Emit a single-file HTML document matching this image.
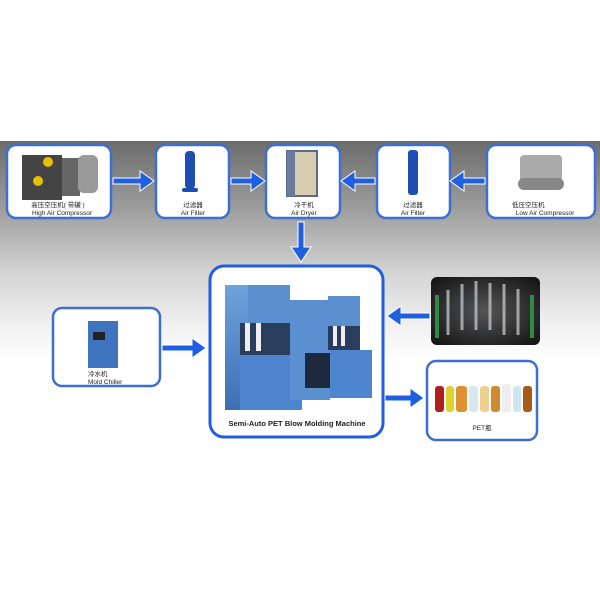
<!DOCTYPE html>
<html><head><meta charset="utf-8"><style>
html,body{margin:0;padding:0;background:#fff;}
svg{display:block;}
text{font-family:"Liberation Sans","Noto Sans CJK SC",sans-serif;fill:#222;}
</style></head><body>
<svg width="600" height="600" viewBox="0 0 600 600">
<defs>
<linearGradient id="bg" x1="0" y1="0" x2="0" y2="1">
<stop offset="0" stop-color="#6c6c6c"/>
<stop offset="0.3" stop-color="#9c9c9c"/>
<stop offset="0.6" stop-color="#d4d4d4"/>
<stop offset="0.85" stop-color="#f2f2f2"/>
<stop offset="1" stop-color="#ffffff"/>
</linearGradient>
<linearGradient id="blu" x1="0" y1="0" x2="0" y2="1">
<stop offset="0" stop-color="#6fa3dd"/><stop offset="1" stop-color="#3d6fb3"/>
</linearGradient>
<radialGradient id="dark" cx="0.5" cy="0.5" r="0.7">
<stop offset="0" stop-color="#555"/><stop offset="1" stop-color="#111"/>
</radialGradient>
</defs>
<rect x="0" y="141" width="600" height="220" fill="url(#bg)"/>
<g fill="#fff" stroke="#3b6fd0" stroke-width="2.5">
<rect x="7" y="145" width="104" height="73" rx="9"/>
<rect x="156" y="145" width="73" height="73" rx="9"/>
<rect x="266" y="145" width="74" height="73" rx="9"/>
<rect x="377" y="145" width="73" height="73" rx="9"/>
<rect x="487" y="145" width="108" height="73" rx="9"/>
<rect x="210" y="266" width="173" height="171" rx="14" stroke="#1f5fe0" stroke-width="3"/>
<rect x="53" y="308" width="107" height="78" rx="9"/>
<rect x="427" y="361" width="110" height="79" rx="9"/>
</g>
<g>
<rect x="22" y="155" width="40" height="45" fill="#444"/>
<circle cx="48" cy="162" r="5" fill="#e8c000"/><circle cx="38" cy="181" r="5" fill="#e8c000"/>
<rect x="62" y="158" width="18" height="38" fill="#666"/>
<rect x="78" y="155" width="20" height="38" rx="6" fill="#9a9a9a"/>
<rect x="185" y="151" width="10" height="38" rx="4" fill="#1e4fb0"/>
<rect x="182" y="188" width="16" height="4" rx="2" fill="#1e4fb0"/>
<rect x="287" y="151" width="30" height="45" fill="#d8ccb0" stroke="#5a6a8a" stroke-width="2"/>
<rect x="287" y="151" width="8" height="45" fill="#6b7b9a"/>
<rect x="408" y="150" width="10" height="45" rx="3" fill="#1e4fb0"/>
<rect x="520" y="155" width="42" height="30" rx="4" fill="#aaa"/>
<rect x="518" y="178" width="46" height="12" rx="6" fill="#888"/>
<rect x="88" y="321" width="30" height="47" fill="#3e73be"/>
<rect x="93" y="332" width="12" height="8" fill="#222"/>
<rect x="225" y="285" width="55" height="125" fill="url(#blu)"/>
<rect x="248" y="285" width="42" height="38" fill="#5a8fd0"/>
<rect x="240" y="323" width="50" height="32" fill="#2a3d5c"/>
<rect x="245" y="323" width="5" height="28" fill="#eee"/><rect x="256" y="323" width="5" height="28" fill="#eee"/>
<rect x="240" y="355" width="62" height="55" fill="#4d86cf"/>
<rect x="290" y="300" width="40" height="100" fill="#5a8fd0"/>
<rect x="305" y="353" width="28" height="35" fill="#1d2a3e"/>
<rect x="328" y="296" width="32" height="30" fill="#5a8fd0"/>
<rect x="328" y="326" width="32" height="24" fill="#2a3d5c"/>
<rect x="333" y="326" width="4" height="20" fill="#eee"/><rect x="341" y="326" width="4" height="20" fill="#eee"/>
<rect x="330" y="350" width="42" height="48" fill="#4d86cf"/>
<rect x="431" y="277" width="109" height="68" rx="6" fill="url(#dark)"/>
<g stroke="#b8c0c8" stroke-width="3" opacity="0.8">
<line x1="448" y1="290" x2="448" y2="335"/><line x1="462" y1="284" x2="462" y2="330"/><line x1="476" y1="281" x2="476" y2="330"/><line x1="490" y1="283" x2="490" y2="330"/><line x1="504" y1="284" x2="504" y2="335"/><line x1="518" y1="289" x2="518" y2="335"/></g>
<g stroke="#2f8a4a" stroke-width="4"><line x1="437" y1="295" x2="437" y2="338"/><line x1="532" y1="295" x2="532" y2="338"/></g>
<g>
<rect x="435" y="386" width="9" height="26" rx="3" fill="#b02020"/>
<rect x="446" y="386" width="8" height="26" rx="3" fill="#e0d030"/>
<rect x="456" y="386" width="11" height="26" rx="3" fill="#e09030"/>
<rect x="469" y="386" width="9" height="26" rx="3" fill="#d8e8f0"/>
<rect x="480" y="386" width="9" height="26" rx="3" fill="#f0d090"/>
<rect x="491" y="386" width="9" height="26" rx="3" fill="#d08a30"/>
<rect x="502" y="384" width="9" height="28" rx="3" fill="#eee"/>
<rect x="513" y="386" width="8" height="26" rx="3" fill="#cfe6ee"/>
<rect x="523" y="386" width="9" height="26" rx="3" fill="#a85a18"/>
</g>
</g>
<g font-size="6.5" text-anchor="middle">
<text x="58" y="207">高压空压机( 带罐 )</text>
<text x="62" y="215">High Air Compressor</text>
<text x="193" y="207">过滤器</text><text x="193" y="215">Air Filter</text>
<text x="304" y="207">冷干机</text><text x="304" y="215">Air Dryer</text>
<text x="413" y="207">过滤器</text><text x="413" y="215">Air Filter</text>
<text x="512" y="207" text-anchor="start">低压空压机</text>
<text x="545" y="215">Low Air Compressor</text>
<text x="88" y="376" text-anchor="start">冷水机</text>
<text x="88" y="384" text-anchor="start">Mold Chiller</text>
<text x="482" y="430">PET瓶</text>
<text x="297" y="426" font-size="7.5" font-weight="bold">Semi-Auto PET Blow Molding Machine</text>
</g>
<g fill="#1f5fe0" stroke="#fff" stroke-width="1">
<path d="M113,178 h27 v-7 l14,10 l-14,10 v-7 h-27z"/>
<path d="M231,178 h20 v-7 l14,10 l-14,10 v-7 h-20z"/>
<path d="M375,178 h-20 v-7 l-14,10 l14,10 v-7 h20z"/>
<path d="M485,178 h-21 v-7 l-14,10 l14,10 v-7 h21z"/>
<path d="M298,222 v25 h-7 l10,15 l10,-15 h-7 v-25z"/>
<path d="M162,345 h30 v-7 l14,10 l-14,10 v-7 h-30z"/>
<path d="M430,313 h-29 v-7 l-14,10 l14,10 v-7 h29z"/>
<path d="M385,395 h25 v-7 l14,10 l-14,10 v-7 h-25z"/>
</g>
</svg>
</body></html>
